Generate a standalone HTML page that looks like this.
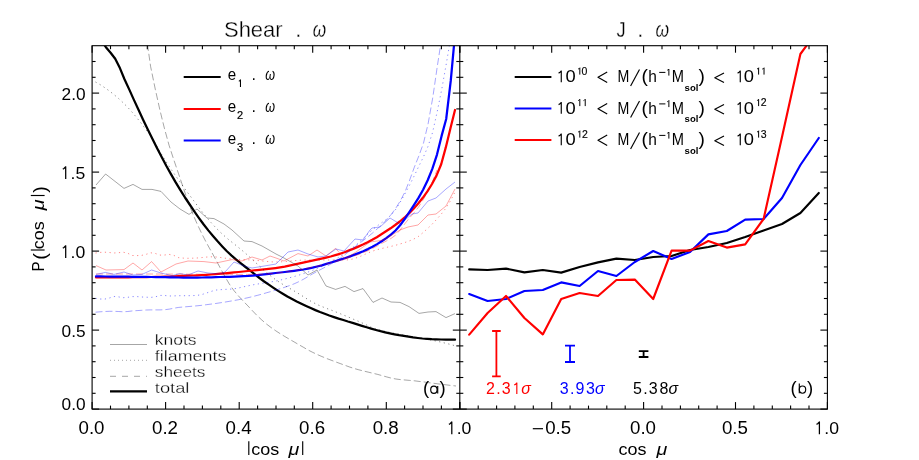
<!DOCTYPE html>
<html><head><meta charset="utf-8"><title>Alignment PDFs</title>
<style>html,body{margin:0;padding:0;background:#fff;}svg{display:block;}text{font-family:"Liberation Sans",sans-serif;}</style></head><body>
<svg width="919" height="460" viewBox="0 0 919 460" style="will-change:transform">
<rect width="919" height="460" fill="#fff"/>
<defs><clipPath id="cl"><rect x="92.1" y="45.7" width="367.70000000000005" height="363.40000000000003"/></clipPath><clipPath id="cr"><rect x="459.8" y="45.7" width="367.59999999999997" height="363.40000000000003"/></clipPath></defs>
<g clip-path="url(#cl)">
<polyline points="96.6,33.0 101.3,40.5 105.9,47.2 110.6,52.7 115.2,58.8 119.9,68.1 124.5,79.2 129.2,89.4 133.8,99.6 138.5,109.8 143.1,119.7 147.8,129.4 152.5,138.9 157.1,148.2 161.8,157.2 166.4,166.0 171.1,174.4 175.7,182.4 180.4,190.1 185.0,197.5 189.7,204.5 194.3,211.4 199.0,218.1 203.7,224.5 208.3,230.4 213.0,236.0 217.6,241.3 222.3,246.4 226.9,251.2 231.6,255.6 236.2,259.7 240.9,263.4 245.5,267.0 250.2,270.6 254.9,274.3 259.5,278.0 264.2,281.5 268.8,284.7 273.5,287.9 278.1,290.9 282.8,293.7 287.4,296.5 292.1,299.0 296.7,301.4 301.4,303.7 306.1,305.9 310.7,308.0 315.4,310.1 320.0,312.0 324.7,313.8 329.3,315.5 334.0,317.1 338.6,318.6 343.3,320.0 347.9,321.5 352.6,322.9 357.3,324.4 361.9,325.8 366.6,327.3 371.2,328.7 375.9,330.0 380.5,331.2 385.2,332.3 389.8,333.3 394.5,334.3 399.1,335.2 403.8,335.9 408.5,336.7 413.1,337.4 417.8,338.0 422.4,338.5 427.1,338.8 431.7,339.1 436.4,339.3 441.0,339.5 445.7,339.6 450.3,339.7 455.0,339.7" fill="none" stroke="#000" stroke-width="2.25" stroke-linejoin="round" stroke-linecap="round"/>
<polyline points="96.0,277.4 100.6,277.4 105.2,277.4 109.8,277.4 114.4,277.3 119.0,277.3 123.6,277.3 128.2,277.3 132.8,277.2 137.4,277.2 142.0,277.1 146.6,277.1 151.2,277.0 155.8,276.9 160.4,276.8 165.0,276.7 169.6,276.5 174.2,276.3 178.8,276.1 183.4,275.9 188.1,275.7 192.7,275.5 197.3,275.3 201.9,275.0 206.5,274.8 211.1,274.5 215.7,274.1 220.3,273.7 224.9,273.3 229.5,272.8 234.1,272.4 238.7,272.0 243.3,271.5 247.9,271.0 252.5,270.5 257.1,270.1 261.7,269.6 266.3,269.2 270.9,268.7 275.5,268.1 280.1,267.4 284.7,266.6 289.3,265.6 293.9,264.7 298.5,263.6 303.1,262.6 307.7,261.6 312.3,260.7 316.9,259.7 321.5,258.7 326.1,257.6 330.7,256.5 335.3,255.2 339.9,253.8 344.5,252.2 349.1,250.4 353.7,248.6 358.3,246.6 362.9,244.5 367.6,242.2 372.2,239.8 376.8,237.2 381.4,234.3 386.0,231.3 390.6,228.3 395.2,225.0 399.8,221.5 404.4,217.7 409.0,213.4 413.6,208.7 418.2,203.5 422.8,197.8 427.4,191.4 432.0,184.0 436.6,175.4 441.2,164.3 445.8,147.4 450.4,128.4 455.0,110.0" fill="none" stroke="#f00" stroke-width="2.25" stroke-linejoin="round" stroke-linecap="round"/>
<polyline points="96.0,276.4 100.6,276.4 105.2,276.5 109.8,276.5 114.4,276.6 119.0,276.6 123.6,276.7 128.3,276.7 132.9,276.8 137.5,276.8 142.1,276.9 146.7,276.9 151.3,277.0 155.9,277.1 160.5,277.1 165.1,277.2 169.7,277.3 174.3,277.4 178.9,277.5 183.5,277.5 188.2,277.6 192.8,277.6 197.4,277.6 202.0,277.5 206.6,277.4 211.2,277.3 215.8,277.2 220.4,277.0 225.0,276.9 229.6,276.8 234.2,276.6 238.8,276.4 243.4,276.1 248.1,275.9 252.7,275.6 257.3,275.2 261.9,274.7 266.5,274.2 271.1,273.6 275.7,273.0 280.3,272.5 284.9,272.0 289.5,271.4 294.1,270.8 298.7,270.2 303.3,269.5 308.0,268.6 312.6,267.7 317.2,266.5 321.8,265.3 326.4,263.9 331.0,262.5 335.6,261.1 340.2,259.7 344.8,258.2 349.4,256.6 354.0,254.9 358.6,253.1 363.2,251.2 367.9,249.1 372.5,246.8 377.1,244.1 381.7,241.2 386.3,238.1 390.9,234.6 395.5,230.5 400.1,225.3 404.7,219.0 409.3,212.1 413.9,205.1 418.5,197.9 423.1,189.7 427.8,180.0 432.4,168.7 437.0,154.6 441.6,135.9 446.2,119.0 450.8,80.4 455.4,30.0" fill="none" stroke="#00f" stroke-width="2.25" stroke-linejoin="round" stroke-linecap="round"/>
<polyline points="96.0,185.0 105.6,174.0 124.0,188.4 133.0,184.4 142.0,189.4 152.0,189.4 161.0,191.4 171.0,202.0 180.0,209.0 189.0,214.4 197.0,209.0 207.0,218.0 214.0,218.6 224.0,224.0 232.0,230.0 244.0,241.0 252.0,241.6 262.0,246.0 276.0,254.0 284.0,258.0 298.0,266.0 308.0,275.0 317.0,270.0 326.0,286.0 335.6,289.4 345.0,286.4 354.0,291.6 363.0,288.6 373.0,302.4 382.0,298.0 391.0,302.0 400.0,302.4 409.0,306.6 419.0,313.4 428.0,312.0 436.0,311.6 446.0,317.6 455.0,313.6" fill="none" stroke="#000" stroke-width="0.7" stroke-linejoin="round" stroke-opacity="0.5"/>
<polyline points="95.5,82.0 100.1,84.6 104.7,87.6 109.4,91.0 114.0,94.6 118.6,98.5 123.2,102.8 127.9,107.5 132.5,112.6 137.1,118.1 141.7,123.9 146.3,130.0 151.0,136.4 155.6,143.8 160.2,152.0 164.8,159.7 169.4,166.8 174.1,173.6 178.7,180.2 183.3,186.6 187.9,192.9 192.6,199.2 197.2,205.4 201.8,211.4 206.4,217.1 211.0,222.5 215.7,227.6 220.3,232.2 224.9,236.4 229.5,240.3 234.2,244.0 238.8,247.7 243.4,251.5 248.0,255.5 252.6,259.8 257.3,264.1 261.9,268.4 266.5,272.5 271.1,276.3 275.8,279.8 280.4,282.9 285.0,285.7 289.6,288.3 294.2,291.0 298.9,293.8 303.5,296.7 308.1,299.6 312.7,302.3 317.3,304.6 322.0,306.6 326.6,308.4 331.2,310.1 335.8,311.9 340.5,313.8 345.1,315.7 349.7,317.6 354.3,319.6 358.9,321.5 363.6,323.6 368.2,325.8 372.8,327.9 377.4,329.4 382.1,330.7 386.7,331.7 391.3,332.7 395.9,333.6 400.5,334.5 405.2,335.3 409.8,336.2 414.4,337.1 419.0,337.9 423.6,338.7 428.3,339.5 432.9,340.4 437.5,341.3 442.1,342.4 446.8,343.5 451.4,344.7 456.0,346.0" fill="none" stroke="#000" stroke-width="0.8" stroke-linejoin="round" stroke-dasharray="1.2 3.5" stroke-opacity="0.6"/>
<polyline points="146.0,34.0 150.6,66.5 155.3,89.3 159.9,110.0 164.5,128.7 169.1,145.4 173.8,159.8 178.4,173.3 183.0,186.9 187.6,200.4 192.3,212.7 196.9,223.4 201.5,233.1 206.1,242.1 210.8,250.6 215.4,258.9 220.0,267.5 224.7,276.1 229.3,284.0 233.9,290.5 238.5,296.0 243.2,301.0 247.8,305.8 252.4,310.7 257.0,315.5 261.7,319.9 266.3,323.9 270.9,327.4 275.6,330.7 280.2,333.7 284.8,336.5 289.4,339.2 294.1,341.9 298.7,344.6 303.3,347.2 307.9,349.9 312.6,352.3 317.2,354.5 321.8,356.5 326.4,358.4 331.1,360.2 335.7,361.9 340.3,363.6 345.0,365.3 349.6,367.0 354.2,368.5 358.8,369.8 363.5,371.0 368.1,372.1 372.7,373.2 377.3,374.3 382.0,375.6 386.6,376.9 391.2,378.1 395.9,379.0 400.5,379.6 405.1,380.0 409.7,380.4 414.4,380.8 419.0,381.4 423.6,381.9 428.2,382.6 432.9,383.2 437.5,383.8 442.1,384.4 446.7,384.9 451.4,385.5 456.0,386.0" fill="none" stroke="#000" stroke-width="0.7" stroke-linejoin="round" stroke-dasharray="7 3" stroke-opacity="0.5"/>
<polyline points="96.0,265.6 106.0,270.0 124.0,269.6 133.0,263.0 142.0,270.0 151.6,261.6 161.0,272.0 176.0,264.0 188.0,261.0 204.0,261.6 216.0,263.0 232.0,259.6 242.0,261.0 252.0,257.0 262.0,260.0 270.0,256.0 276.0,258.0 284.0,261.0 298.0,253.6 308.0,256.0 317.0,250.0 326.0,256.0 335.6,248.4 345.0,259.0 356.0,252.0 370.0,242.0 384.0,240.0 400.0,230.0 408.0,227.0 418.0,225.0 428.0,215.0 436.0,214.0 446.0,206.0 455.0,189.0" fill="none" stroke="#f00" stroke-width="0.7" stroke-linejoin="round" stroke-opacity="0.5"/>
<polyline points="95.5,253.0 100.1,252.4 104.7,252.2 109.3,252.5 113.9,253.0 118.5,252.7 123.2,252.2 127.8,253.3 132.4,255.5 137.0,255.6 141.6,255.4 146.2,254.3 150.8,252.8 155.4,253.5 160.0,255.1 164.6,255.0 169.2,254.4 173.9,255.4 178.5,257.6 183.1,258.1 187.7,258.3 192.3,258.2 196.9,258.0 201.5,257.6 206.1,257.1 210.7,256.8 215.3,256.9 219.9,257.4 224.6,258.1 229.2,258.7 233.8,259.1 238.4,259.4 243.0,259.6 247.6,259.8 252.2,260.0 256.8,260.4 261.4,260.9 266.0,261.4 270.6,261.8 275.2,262.0 279.9,261.9 284.5,261.6 289.1,261.2 293.7,260.7 298.3,260.3 302.9,260.1 307.5,260.0 312.1,260.0 316.7,260.0 321.3,260.0 325.9,260.0 330.6,260.0 335.2,260.0 339.8,260.0 344.4,260.0 349.0,259.8 353.6,258.8 358.2,257.2 362.8,255.3 367.4,253.2 372.0,251.3 376.6,249.8 381.3,248.6 385.9,247.5 390.5,246.5 395.1,245.4 399.7,244.1 404.3,242.7 408.9,241.1 413.5,239.2 418.1,236.7 422.7,232.9 427.3,228.8 432.0,224.3 436.6,219.4 441.2,214.2 445.8,208.3 450.4,200.9 455.0,192.0" fill="none" stroke="#f00" stroke-width="0.8" stroke-linejoin="round" stroke-dasharray="1.2 3.5" stroke-opacity="0.6"/>
<polyline points="96.0,274.0 100.6,274.0 105.2,274.0 109.8,274.0 114.4,274.0 119.0,274.0 123.6,274.0 128.3,274.0 132.9,274.0 137.5,274.0 142.1,274.0 146.7,274.0 151.3,274.0 155.9,274.0 160.5,274.0 165.1,274.0 169.7,274.1 174.3,274.1 178.9,274.1 183.6,274.1 188.2,274.2 192.8,274.2 197.4,274.2 202.0,274.3 206.6,274.3 211.2,274.3 215.8,274.3 220.4,274.3 225.0,274.3 229.6,274.4 234.2,274.4 238.9,274.4 243.5,274.4 248.1,274.4 252.7,274.4 257.3,274.4 261.9,274.2 266.5,273.9 271.1,273.5 275.7,273.0 280.3,272.6 284.9,272.0 289.5,271.3 294.1,270.6 298.8,269.8 303.4,269.0 308.0,268.1 312.6,267.2 317.2,266.2 321.8,265.2 326.4,264.0 331.0,262.8 335.6,261.6 340.2,260.3 344.8,259.0 349.4,257.5 354.1,256.0 358.7,254.4 363.3,252.6 367.9,250.7 372.5,248.4 377.1,246.0 381.7,243.4 386.3,241.0 390.9,238.5 395.5,235.2 400.1,230.1 404.7,223.9 409.4,218.1 414.0,212.8 418.6,207.0 423.2,199.8 427.8,191.4 432.4,181.7 437.0,170.0" fill="none" stroke="#f00" stroke-width="0.7" stroke-linejoin="round" stroke-dasharray="7 3" stroke-opacity="0.5"/>
<polyline points="96.0,274.4 105.6,272.4 114.0,274.4 124.0,272.0 133.0,275.0 142.0,274.4 151.6,270.0 161.0,273.0 172.0,275.6 180.0,273.6 188.0,275.0 198.0,271.0 208.0,273.0 220.0,274.0 225.0,272.0 234.0,262.0 244.0,266.0 252.0,268.0 262.0,266.4 276.0,264.0 288.0,252.0 298.0,250.0 308.0,254.0 318.0,257.0 326.0,256.0 336.0,249.0 344.0,251.0 355.0,239.0 363.0,240.0 370.0,230.0 372.0,228.0 380.0,227.0 390.0,218.0 400.0,224.0 412.0,214.0 418.0,213.0 428.0,201.0 436.0,198.0 446.0,189.0 455.0,182.0" fill="none" stroke="#00f" stroke-width="0.7" stroke-linejoin="round" stroke-opacity="0.5"/>
<polyline points="95.5,298.3 100.1,299.0 104.7,299.1 109.4,298.0 114.0,296.5 118.6,296.9 123.2,297.7 127.8,297.3 132.4,296.6 137.1,296.6 141.7,297.0 146.3,297.2 150.9,297.4 155.5,296.8 160.1,295.4 164.8,295.5 169.4,296.0 174.0,295.9 178.6,295.7 183.2,295.7 187.8,295.7 192.5,295.6 197.1,295.4 201.7,294.6 206.3,293.1 210.9,291.5 215.5,290.1 220.2,289.7 224.8,289.4 229.4,289.2 234.0,288.8 238.6,288.0 243.2,286.9 247.9,285.9 252.5,284.9 257.1,284.1 261.7,283.4 266.3,282.7 270.9,281.9 275.6,281.1 280.2,280.1 284.8,279.0 289.4,277.8 294.0,276.6 298.6,275.2 303.3,273.7 307.9,272.1 312.5,270.4 317.1,268.5 321.7,266.5 326.3,264.3 331.0,261.8 335.6,259.2 340.2,256.4 344.8,253.4 349.4,250.1 354.0,246.6 358.7,242.7 363.3,238.3 367.9,233.8 372.5,229.6 377.1,226.0 381.7,222.7 386.4,219.3 391.0,215.1 395.6,209.5 400.2,202.2 404.8,194.1 409.4,185.5 414.1,176.1 418.7,166.5 423.3,157.2 427.9,146.7 432.5,132.7 437.1,112.2 441.8,89.0 446.4,63.2 451.0,36.0" fill="none" stroke="#00f" stroke-width="0.8" stroke-linejoin="round" stroke-dasharray="1.2 3.5" stroke-opacity="0.6"/>
<polyline points="95.5,312.2 100.1,311.8 104.7,311.5 109.4,311.3 114.0,311.3 118.6,311.5 123.2,311.8 127.8,311.5 132.5,310.9 137.1,310.6 141.7,310.3 146.3,310.0 150.9,309.9 155.6,309.9 160.2,309.9 164.8,309.7 169.4,309.1 174.0,308.2 178.7,307.4 183.3,307.0 187.9,306.6 192.5,306.2 197.1,305.8 201.8,305.3 206.4,304.7 211.0,304.1 215.6,303.5 220.2,302.8 224.9,302.1 229.5,301.3 234.1,300.5 238.7,299.7 243.3,298.7 248.0,297.7 252.6,296.6 257.2,295.4 261.8,294.2 266.4,292.8 271.1,291.5 275.7,290.1 280.3,288.7 284.9,287.2 289.5,285.6 294.2,283.8 298.8,281.7 303.4,279.3 308.0,276.6 312.6,273.9 317.3,271.3 321.9,268.9 326.5,266.4 331.1,263.9 335.7,261.2 340.4,258.1 345.0,254.6 349.6,251.0 354.2,247.4 358.8,243.8 363.5,240.3 368.1,236.7 372.7,232.9 377.3,228.8 381.9,224.6 386.6,219.9 391.2,214.5 395.8,208.2 400.4,200.7 405.0,191.8 409.7,180.0 414.3,167.3 418.9,155.8 423.5,143.1 428.1,123.8 432.8,97.4 437.4,65.7 442.0,36.0" fill="none" stroke="#00f" stroke-width="0.7" stroke-linejoin="round" stroke-dasharray="7 3" stroke-opacity="0.5"/>
</g>
<g clip-path="url(#cr)">
<polyline points="469.2,269.4 487.6,270.0 506.0,268.6 524.4,272.4 542.8,270.0 561.2,272.6 579.6,267.0 598.0,262.4 616.4,258.6 634.8,260.0 653.2,257.0 671.6,256.0 690.0,250.0 708.4,247.0 726.8,243.0 745.2,237.0 763.6,230.5 782.0,224.0 800.4,213.0 818.8,193.0" fill="none" stroke="#000" stroke-width="2.15" stroke-linejoin="round" stroke-linecap="round"/>
<polyline points="469.2,294.0 487.6,301.0 506.0,299.0 524.4,291.0 542.8,290.0 561.2,282.4 579.6,286.0 598.0,271.0 616.4,276.0 634.8,262.0 653.2,251.0 671.6,259.0 690.0,252.0 708.4,234.4 726.8,231.0 745.2,219.6 763.6,219.0 782.0,198.0 800.4,165.0 818.8,138.0" fill="none" stroke="#00f" stroke-width="2.15" stroke-linejoin="round" stroke-linecap="round"/>
<polyline points="469.2,334.6 487.6,313.0 506.0,296.0 524.4,318.0 542.8,334.4 561.2,299.0 579.6,293.0 598.0,296.0 616.4,280.0 634.8,279.6 653.2,299.0 671.6,250.6 690.0,250.6 708.4,241.0 726.8,247.6 745.2,244.4 763.6,219.0 782.0,137.0 800.4,54.0 818.8,29.0" fill="none" stroke="#f00" stroke-width="2.15" stroke-linejoin="round" stroke-linecap="round"/>
</g>
<g stroke="#000" stroke-width="1.1" fill="none">
<rect x="92.1" y="45.7" width="735.3" height="363.40000000000003"/>
<line x1="459.8" y1="45.7" x2="459.8" y2="409.1"/>
<line x1="92.1" y1="409.1" x2="99.1" y2="409.1"/>
<line x1="452.8" y1="409.1" x2="466.8" y2="409.1"/>
<line x1="820.4" y1="409.1" x2="827.4" y2="409.1"/>
<line x1="92.1" y1="393.3" x2="95.6" y2="393.3"/>
<line x1="456.3" y1="393.3" x2="463.3" y2="393.3"/>
<line x1="823.9" y1="393.3" x2="827.4" y2="393.3"/>
<line x1="92.1" y1="377.5" x2="95.6" y2="377.5"/>
<line x1="456.3" y1="377.5" x2="463.3" y2="377.5"/>
<line x1="823.9" y1="377.5" x2="827.4" y2="377.5"/>
<line x1="92.1" y1="361.7" x2="95.6" y2="361.7"/>
<line x1="456.3" y1="361.7" x2="463.3" y2="361.7"/>
<line x1="823.9" y1="361.7" x2="827.4" y2="361.7"/>
<line x1="92.1" y1="345.9" x2="95.6" y2="345.9"/>
<line x1="456.3" y1="345.9" x2="463.3" y2="345.9"/>
<line x1="823.9" y1="345.9" x2="827.4" y2="345.9"/>
<line x1="92.1" y1="330.1" x2="99.1" y2="330.1"/>
<line x1="452.8" y1="330.1" x2="466.8" y2="330.1"/>
<line x1="820.4" y1="330.1" x2="827.4" y2="330.1"/>
<line x1="92.1" y1="314.3" x2="95.6" y2="314.3"/>
<line x1="456.3" y1="314.3" x2="463.3" y2="314.3"/>
<line x1="823.9" y1="314.3" x2="827.4" y2="314.3"/>
<line x1="92.1" y1="298.5" x2="95.6" y2="298.5"/>
<line x1="456.3" y1="298.5" x2="463.3" y2="298.5"/>
<line x1="823.9" y1="298.5" x2="827.4" y2="298.5"/>
<line x1="92.1" y1="282.7" x2="95.6" y2="282.7"/>
<line x1="456.3" y1="282.7" x2="463.3" y2="282.7"/>
<line x1="823.9" y1="282.7" x2="827.4" y2="282.7"/>
<line x1="92.1" y1="266.9" x2="95.6" y2="266.9"/>
<line x1="456.3" y1="266.9" x2="463.3" y2="266.9"/>
<line x1="823.9" y1="266.9" x2="827.4" y2="266.9"/>
<line x1="92.1" y1="251.1" x2="99.1" y2="251.1"/>
<line x1="452.8" y1="251.1" x2="466.8" y2="251.1"/>
<line x1="820.4" y1="251.1" x2="827.4" y2="251.1"/>
<line x1="92.1" y1="235.3" x2="95.6" y2="235.3"/>
<line x1="456.3" y1="235.3" x2="463.3" y2="235.3"/>
<line x1="823.9" y1="235.3" x2="827.4" y2="235.3"/>
<line x1="92.1" y1="219.5" x2="95.6" y2="219.5"/>
<line x1="456.3" y1="219.5" x2="463.3" y2="219.5"/>
<line x1="823.9" y1="219.5" x2="827.4" y2="219.5"/>
<line x1="92.1" y1="203.7" x2="95.6" y2="203.7"/>
<line x1="456.3" y1="203.7" x2="463.3" y2="203.7"/>
<line x1="823.9" y1="203.7" x2="827.4" y2="203.7"/>
<line x1="92.1" y1="187.9" x2="95.6" y2="187.9"/>
<line x1="456.3" y1="187.9" x2="463.3" y2="187.9"/>
<line x1="823.9" y1="187.9" x2="827.4" y2="187.9"/>
<line x1="92.1" y1="172.1" x2="99.1" y2="172.1"/>
<line x1="452.8" y1="172.1" x2="466.8" y2="172.1"/>
<line x1="820.4" y1="172.1" x2="827.4" y2="172.1"/>
<line x1="92.1" y1="156.3" x2="95.6" y2="156.3"/>
<line x1="456.3" y1="156.3" x2="463.3" y2="156.3"/>
<line x1="823.9" y1="156.3" x2="827.4" y2="156.3"/>
<line x1="92.1" y1="140.5" x2="95.6" y2="140.5"/>
<line x1="456.3" y1="140.5" x2="463.3" y2="140.5"/>
<line x1="823.9" y1="140.5" x2="827.4" y2="140.5"/>
<line x1="92.1" y1="124.7" x2="95.6" y2="124.7"/>
<line x1="456.3" y1="124.7" x2="463.3" y2="124.7"/>
<line x1="823.9" y1="124.7" x2="827.4" y2="124.7"/>
<line x1="92.1" y1="108.9" x2="95.6" y2="108.9"/>
<line x1="456.3" y1="108.9" x2="463.3" y2="108.9"/>
<line x1="823.9" y1="108.9" x2="827.4" y2="108.9"/>
<line x1="92.1" y1="93.1" x2="99.1" y2="93.1"/>
<line x1="452.8" y1="93.1" x2="466.8" y2="93.1"/>
<line x1="820.4" y1="93.1" x2="827.4" y2="93.1"/>
<line x1="92.1" y1="77.3" x2="95.6" y2="77.3"/>
<line x1="456.3" y1="77.3" x2="463.3" y2="77.3"/>
<line x1="823.9" y1="77.3" x2="827.4" y2="77.3"/>
<line x1="92.1" y1="61.5" x2="95.6" y2="61.5"/>
<line x1="456.3" y1="61.5" x2="463.3" y2="61.5"/>
<line x1="823.9" y1="61.5" x2="827.4" y2="61.5"/>
<line x1="92.1" y1="409.1" x2="92.1" y2="402.1"/>
<line x1="92.1" y1="45.7" x2="92.1" y2="52.7"/>
<line x1="110.5" y1="409.1" x2="110.5" y2="405.6"/>
<line x1="110.5" y1="45.7" x2="110.5" y2="49.2"/>
<line x1="128.9" y1="409.1" x2="128.9" y2="405.6"/>
<line x1="128.9" y1="45.7" x2="128.9" y2="49.2"/>
<line x1="147.3" y1="409.1" x2="147.3" y2="405.6"/>
<line x1="147.3" y1="45.7" x2="147.3" y2="49.2"/>
<line x1="165.6" y1="409.1" x2="165.6" y2="402.1"/>
<line x1="165.6" y1="45.7" x2="165.6" y2="52.7"/>
<line x1="184.0" y1="409.1" x2="184.0" y2="405.6"/>
<line x1="184.0" y1="45.7" x2="184.0" y2="49.2"/>
<line x1="202.4" y1="409.1" x2="202.4" y2="405.6"/>
<line x1="202.4" y1="45.7" x2="202.4" y2="49.2"/>
<line x1="220.8" y1="409.1" x2="220.8" y2="405.6"/>
<line x1="220.8" y1="45.7" x2="220.8" y2="49.2"/>
<line x1="239.2" y1="409.1" x2="239.2" y2="402.1"/>
<line x1="239.2" y1="45.7" x2="239.2" y2="52.7"/>
<line x1="257.6" y1="409.1" x2="257.6" y2="405.6"/>
<line x1="257.6" y1="45.7" x2="257.6" y2="49.2"/>
<line x1="276.0" y1="409.1" x2="276.0" y2="405.6"/>
<line x1="276.0" y1="45.7" x2="276.0" y2="49.2"/>
<line x1="294.3" y1="409.1" x2="294.3" y2="405.6"/>
<line x1="294.3" y1="45.7" x2="294.3" y2="49.2"/>
<line x1="312.7" y1="409.1" x2="312.7" y2="402.1"/>
<line x1="312.7" y1="45.7" x2="312.7" y2="52.7"/>
<line x1="331.1" y1="409.1" x2="331.1" y2="405.6"/>
<line x1="331.1" y1="45.7" x2="331.1" y2="49.2"/>
<line x1="349.5" y1="409.1" x2="349.5" y2="405.6"/>
<line x1="349.5" y1="45.7" x2="349.5" y2="49.2"/>
<line x1="367.9" y1="409.1" x2="367.9" y2="405.6"/>
<line x1="367.9" y1="45.7" x2="367.9" y2="49.2"/>
<line x1="386.3" y1="409.1" x2="386.3" y2="402.1"/>
<line x1="386.3" y1="45.7" x2="386.3" y2="52.7"/>
<line x1="404.6" y1="409.1" x2="404.6" y2="405.6"/>
<line x1="404.6" y1="45.7" x2="404.6" y2="49.2"/>
<line x1="423.0" y1="409.1" x2="423.0" y2="405.6"/>
<line x1="423.0" y1="45.7" x2="423.0" y2="49.2"/>
<line x1="441.4" y1="409.1" x2="441.4" y2="405.6"/>
<line x1="441.4" y1="45.7" x2="441.4" y2="49.2"/>
<line x1="459.8" y1="409.1" x2="459.8" y2="402.1"/>
<line x1="459.8" y1="45.7" x2="459.8" y2="52.7"/>
<line x1="459.8" y1="409.1" x2="459.8" y2="402.1"/>
<line x1="459.8" y1="45.7" x2="459.8" y2="52.7"/>
<line x1="478.2" y1="409.1" x2="478.2" y2="405.6"/>
<line x1="478.2" y1="45.7" x2="478.2" y2="49.2"/>
<line x1="496.6" y1="409.1" x2="496.6" y2="405.6"/>
<line x1="496.6" y1="45.7" x2="496.6" y2="49.2"/>
<line x1="514.9" y1="409.1" x2="514.9" y2="405.6"/>
<line x1="514.9" y1="45.7" x2="514.9" y2="49.2"/>
<line x1="533.3" y1="409.1" x2="533.3" y2="405.6"/>
<line x1="533.3" y1="45.7" x2="533.3" y2="49.2"/>
<line x1="551.7" y1="409.1" x2="551.7" y2="402.1"/>
<line x1="551.7" y1="45.7" x2="551.7" y2="52.7"/>
<line x1="570.1" y1="409.1" x2="570.1" y2="405.6"/>
<line x1="570.1" y1="45.7" x2="570.1" y2="49.2"/>
<line x1="588.5" y1="409.1" x2="588.5" y2="405.6"/>
<line x1="588.5" y1="45.7" x2="588.5" y2="49.2"/>
<line x1="606.8" y1="409.1" x2="606.8" y2="405.6"/>
<line x1="606.8" y1="45.7" x2="606.8" y2="49.2"/>
<line x1="625.2" y1="409.1" x2="625.2" y2="405.6"/>
<line x1="625.2" y1="45.7" x2="625.2" y2="49.2"/>
<line x1="643.6" y1="409.1" x2="643.6" y2="402.1"/>
<line x1="643.6" y1="45.7" x2="643.6" y2="52.7"/>
<line x1="662.0" y1="409.1" x2="662.0" y2="405.6"/>
<line x1="662.0" y1="45.7" x2="662.0" y2="49.2"/>
<line x1="680.4" y1="409.1" x2="680.4" y2="405.6"/>
<line x1="680.4" y1="45.7" x2="680.4" y2="49.2"/>
<line x1="698.7" y1="409.1" x2="698.7" y2="405.6"/>
<line x1="698.7" y1="45.7" x2="698.7" y2="49.2"/>
<line x1="717.1" y1="409.1" x2="717.1" y2="405.6"/>
<line x1="717.1" y1="45.7" x2="717.1" y2="49.2"/>
<line x1="735.5" y1="409.1" x2="735.5" y2="402.1"/>
<line x1="735.5" y1="45.7" x2="735.5" y2="52.7"/>
<line x1="753.9" y1="409.1" x2="753.9" y2="405.6"/>
<line x1="753.9" y1="45.7" x2="753.9" y2="49.2"/>
<line x1="772.3" y1="409.1" x2="772.3" y2="405.6"/>
<line x1="772.3" y1="45.7" x2="772.3" y2="49.2"/>
<line x1="790.6" y1="409.1" x2="790.6" y2="405.6"/>
<line x1="790.6" y1="45.7" x2="790.6" y2="49.2"/>
<line x1="809.0" y1="409.1" x2="809.0" y2="405.6"/>
<line x1="809.0" y1="45.7" x2="809.0" y2="49.2"/>
<line x1="827.4" y1="409.1" x2="827.4" y2="402.1"/>
<line x1="827.4" y1="45.7" x2="827.4" y2="52.7"/>
</g>
<text x="61.6" y="337.0" font-size="17" textLength="24" lengthAdjust="spacingAndGlyphs">0.5</text>
<text x="61.6" y="100.0" font-size="17" textLength="24" lengthAdjust="spacingAndGlyphs">2.0</text>
<path d="M62.80 248.12L63.96 247.54L65.70 245.80V258.00" fill="none" stroke="#000" stroke-width="1.25" stroke-linejoin="round"/>
<text x="70.6" y="258" font-size="17" textLength="14.7" lengthAdjust="spacingAndGlyphs">.0</text>
<path d="M62.80 169.12L63.96 168.54L65.70 166.80V179.00" fill="none" stroke="#000" stroke-width="1.25" stroke-linejoin="round"/>
<text x="70.6" y="179" font-size="17" textLength="14.7" lengthAdjust="spacingAndGlyphs">.5</text>
<text x="61.6" y="410.2" font-size="17" textLength="24" lengthAdjust="spacingAndGlyphs">0.0</text>
<text x="78.5" y="434.2" font-size="17.6" textLength="26" lengthAdjust="spacingAndGlyphs">0.0</text>
<text x="152.0" y="434.2" font-size="17.6" textLength="26" lengthAdjust="spacingAndGlyphs">0.2</text>
<text x="225.6" y="434.2" font-size="17.6" textLength="26" lengthAdjust="spacingAndGlyphs">0.4</text>
<text x="299.1" y="434.2" font-size="17.6" textLength="26" lengthAdjust="spacingAndGlyphs">0.6</text>
<text x="372.7" y="434.2" font-size="17.6" textLength="26" lengthAdjust="spacingAndGlyphs">0.8</text>
<path d="M448.90 424.32L450.06 423.74L451.80 422.00V434.20" fill="none" stroke="#000" stroke-width="1.25" stroke-linejoin="round"/>
<text x="456.7" y="434.2" font-size="17" textLength="14.7" lengthAdjust="spacingAndGlyphs">.0</text>
<path d="M816.50 424.32L817.66 423.74L819.40 422.00V434.20" fill="none" stroke="#000" stroke-width="1.25" stroke-linejoin="round"/>
<text x="824.3" y="434.2" font-size="17" textLength="14.7" lengthAdjust="spacingAndGlyphs">.0</text>
<line x1="532.8" y1="428.7" x2="543" y2="428.7" stroke="#000" stroke-width="1.2"/>
<text x="545.2" y="434.2" font-size="17.6" textLength="26" lengthAdjust="spacingAndGlyphs">0.5</text>
<text x="630.0" y="434.2" font-size="17.6" textLength="26" lengthAdjust="spacingAndGlyphs">0.0</text>
<text x="721.9" y="434.2" font-size="17.6" textLength="26" lengthAdjust="spacingAndGlyphs">0.5</text>
<line x1="248.8" y1="441.3" x2="248.8" y2="455.1" stroke="#000" stroke-width="1.15"/>
<text x="251.2" y="454.9" font-size="17" textLength="28" lengthAdjust="spacingAndGlyphs">cos</text>
<text x="288.6" y="454.9" font-size="17" textLength="10.8" lengthAdjust="spacingAndGlyphs" font-style="italic">μ</text>
<line x1="302.7" y1="441.3" x2="302.7" y2="455.1" stroke="#000" stroke-width="1.15"/>
<text x="618.6" y="455.4" font-size="17" textLength="28" lengthAdjust="spacingAndGlyphs">cos</text>
<text x="656.4" y="455.4" font-size="17" textLength="10.8" lengthAdjust="spacingAndGlyphs" font-style="italic">μ</text>
<g transform="translate(44.2,271) rotate(-90)">
<text x="-0.5" y="0" font-size="16" textLength="10" lengthAdjust="spacingAndGlyphs">P</text>
<text x="11.2" y="1.6" font-size="19" textLength="6.5" lengthAdjust="spacingAndGlyphs">(</text>
<line x1="21" y1="-13.4" x2="21" y2="0.4" stroke="#000" stroke-width="1.15"/>
<text x="21.8" y="0.2" font-size="17" textLength="28" lengthAdjust="spacingAndGlyphs">cos</text>
<text x="60.8" y="0.2" font-size="17" textLength="10.8" lengthAdjust="spacingAndGlyphs" font-style="italic">μ</text>
<line x1="75.5" y1="-13.4" x2="75.5" y2="0.4" stroke="#000" stroke-width="1.15"/>
<text x="78.3" y="1.6" font-size="19" textLength="6.5" lengthAdjust="spacingAndGlyphs">)</text>
</g>
<text x="224.0" y="37.2" font-size="22" textLength="58.6" lengthAdjust="spacingAndGlyphs" stroke="#fff" stroke-width="0.30">Shear</text>
<text x="295.3" y="37.2" font-size="22" stroke="#fff" stroke-width="0.30">.</text>
<text x="312.8" y="37.2" font-size="22" textLength="13.4" lengthAdjust="spacingAndGlyphs" stroke="#fff" stroke-width="0.30" font-style="italic">ω</text>
<text x="616.4" y="36.8" font-size="22" textLength="9.2" lengthAdjust="spacingAndGlyphs" stroke="#fff" stroke-width="0.30">J</text>
<text x="637.3" y="36.8" font-size="22" stroke="#fff" stroke-width="0.30">.</text>
<text x="655.6" y="36.8" font-size="22" textLength="13.6" lengthAdjust="spacingAndGlyphs" stroke="#fff" stroke-width="0.30" font-style="italic">ω</text>
<line x1="183.7" y1="77" x2="220.7" y2="77" stroke="#000" stroke-width="2.2"/>
<line x1="183.7" y1="109" x2="220.7" y2="109" stroke="#f00" stroke-width="1.8"/>
<line x1="183.7" y1="140.5" x2="220.7" y2="140.5" stroke="#00f" stroke-width="1.8"/>
<text x="227.8" y="80.1" font-size="16" textLength="8.4" lengthAdjust="spacingAndGlyphs">e</text>
<path d="M238.80 81.23L239.47 80.90L240.47 79.90V86.90" fill="none" stroke="#000" stroke-width="1.05" stroke-linejoin="round"/>
<text x="251.5" y="80.1" font-size="16">.</text>
<text x="265.2" y="80.1" font-size="16" textLength="9.8" lengthAdjust="spacingAndGlyphs" font-style="italic">ω</text>
<text x="227.8" y="112.1" font-size="16" textLength="8.4" lengthAdjust="spacingAndGlyphs">e</text>
<text x="236.9" y="119.0" font-size="11" stroke="#000" stroke-width="0.2">2</text>
<text x="251.5" y="112.1" font-size="16">.</text>
<text x="265.2" y="112.1" font-size="16" textLength="9.8" lengthAdjust="spacingAndGlyphs" font-style="italic">ω</text>
<text x="227.8" y="143.6" font-size="16" textLength="8.4" lengthAdjust="spacingAndGlyphs">e</text>
<text x="236.9" y="150.5" font-size="11" stroke="#000" stroke-width="0.2">3</text>
<text x="251.5" y="143.6" font-size="16">.</text>
<text x="265.2" y="143.6" font-size="16" textLength="9.8" lengthAdjust="spacingAndGlyphs" font-style="italic">ω</text>
<line x1="110" y1="344.5" x2="147" y2="344.5" stroke="#000" stroke-width="0.7" stroke-opacity="0.5"/>
<line x1="110" y1="360.3" x2="147" y2="360.3" stroke="#000" stroke-width="0.7" stroke-opacity="0.5" stroke-dasharray="1 3"/>
<line x1="110" y1="376.3" x2="147" y2="376.3" stroke="#000" stroke-width="0.7" stroke-opacity="0.5" stroke-dasharray="6 6"/>
<line x1="110" y1="391.4" x2="147" y2="391.4" stroke="#000" stroke-width="2.25"/>
<text x="154.8" y="345.4" font-size="15" textLength="41.8" lengthAdjust="spacingAndGlyphs" stroke="#fff" stroke-width="0.30">knots</text>
<text x="154.8" y="361.2" font-size="15" textLength="71.6" lengthAdjust="spacingAndGlyphs" stroke="#fff" stroke-width="0.30">filaments</text>
<text x="154.8" y="376.8" font-size="15" textLength="50.6" lengthAdjust="spacingAndGlyphs" stroke="#fff" stroke-width="0.30">sheets</text>
<text x="154.8" y="392.5" font-size="15" textLength="34.6" lengthAdjust="spacingAndGlyphs" stroke="#fff" stroke-width="0.30">total</text>
<text x="423.0" y="393.9" font-size="18.6" textLength="6.2" lengthAdjust="spacingAndGlyphs">(</text>
<g fill="none" stroke="#000" stroke-width="1.15"><ellipse cx="433.9" cy="389.7" rx="3.2" ry="3.6"/><path d="M437.7 386V393.4"/></g>
<text x="439.6" y="393.9" font-size="18.6" textLength="6.2" lengthAdjust="spacingAndGlyphs">)</text>
<text x="790.6" y="393.9" font-size="18.6" textLength="6.2" lengthAdjust="spacingAndGlyphs">(</text>
<g fill="none" stroke="#000" stroke-width="1.15"><ellipse cx="802.5" cy="389.6" rx="3.2" ry="3.6"/><path d="M799.3 383.4V393.3"/></g>
<text x="807.0" y="393.9" font-size="18.6" textLength="6.2" lengthAdjust="spacingAndGlyphs">)</text>
<line x1="514.7" y1="77" x2="551.4" y2="77" stroke="#000" stroke-width="2.1"/>
<path d="M558.60 73.13L559.67 72.60L561.27 71.00V82.20" fill="none" stroke="#000" stroke-width="1.15" stroke-linejoin="round"/>
<text x="565.6" y="82.4" font-size="16" textLength="10.2" lengthAdjust="spacingAndGlyphs">0</text>
<path d="M578.20 69.10L578.85 68.77L579.82 67.80V74.60" fill="none" stroke="#000" stroke-width="1.0" stroke-linejoin="round"/>
<text x="581.6" y="74.7" font-size="10.5" stroke="#000" stroke-width="0.15">0</text>
<path d="M607.2 72.10000000000001L598 77.35L607.2 82.60000000000001" fill="none" stroke="#000" stroke-width="1.15" stroke-linejoin="round"/>
<text x="617.5" y="82.2" font-size="16" textLength="11.8" lengthAdjust="spacingAndGlyphs">M</text>
<line x1="630.6" y1="86.10000000000001" x2="639.5" y2="69.60000000000001" stroke="#000" stroke-width="1.15"/>
<text x="641.4" y="82.2" font-size="18" textLength="6.4" lengthAdjust="spacingAndGlyphs">(</text>
<text x="648.2" y="82.2" font-size="16" textLength="8.6" lengthAdjust="spacingAndGlyphs">h</text>
<line x1="659.2" y1="72.4" x2="665.4" y2="72.4" stroke="#000" stroke-width="1.0"/>
<path d="M667.30 70.26L667.93 69.94L668.87 69.00V75.60" fill="none" stroke="#000" stroke-width="1.0" stroke-linejoin="round"/>
<text x="671.7" y="82.2" font-size="16" textLength="12.2" lengthAdjust="spacingAndGlyphs">M</text>
<text x="684.6" y="90.60000000000001" font-size="9" textLength="13.8" lengthAdjust="spacingAndGlyphs" font-weight="bold">sol</text>
<text x="698.6" y="82.2" font-size="18" textLength="6.4" lengthAdjust="spacingAndGlyphs">)</text>
<path d="M724 73.0L714.8 77.80L724 82.60000000000001" fill="none" stroke="#000" stroke-width="1.15" stroke-linejoin="round"/>
<path d="M737.60 73.13L738.67 72.60L740.27 71.00V82.20" fill="none" stroke="#000" stroke-width="1.15" stroke-linejoin="round"/>
<text x="743.8" y="82.4" font-size="16" textLength="10.2" lengthAdjust="spacingAndGlyphs">0</text>
<path d="M757.00 69.10L757.65 68.77L758.62 67.80V74.60" fill="none" stroke="#000" stroke-width="1.0" stroke-linejoin="round"/>
<path d="M762.40 69.10L763.05 68.77L764.02 67.80V74.60" fill="none" stroke="#000" stroke-width="1.0" stroke-linejoin="round"/>
<line x1="514.7" y1="108.5" x2="551.4" y2="108.5" stroke="#00f" stroke-width="2.1"/>
<path d="M558.60 104.63L559.67 104.10L561.27 102.50V113.70" fill="none" stroke="#000" stroke-width="1.15" stroke-linejoin="round"/>
<text x="565.6" y="113.9" font-size="16" textLength="10.2" lengthAdjust="spacingAndGlyphs">0</text>
<path d="M578.20 100.60L578.85 100.27L579.82 99.30V106.10" fill="none" stroke="#000" stroke-width="1.0" stroke-linejoin="round"/>
<path d="M583.60 100.60L584.25 100.27L585.22 99.30V106.10" fill="none" stroke="#000" stroke-width="1.0" stroke-linejoin="round"/>
<path d="M607.2 103.60000000000001L598 108.85L607.2 114.10000000000001" fill="none" stroke="#000" stroke-width="1.15" stroke-linejoin="round"/>
<text x="617.5" y="113.7" font-size="16" textLength="11.8" lengthAdjust="spacingAndGlyphs">M</text>
<line x1="630.6" y1="117.60000000000001" x2="639.5" y2="101.10000000000001" stroke="#000" stroke-width="1.15"/>
<text x="641.4" y="113.7" font-size="18" textLength="6.4" lengthAdjust="spacingAndGlyphs">(</text>
<text x="648.2" y="113.7" font-size="16" textLength="8.6" lengthAdjust="spacingAndGlyphs">h</text>
<line x1="659.2" y1="103.9" x2="665.4" y2="103.9" stroke="#000" stroke-width="1.0"/>
<path d="M667.30 101.76L667.93 101.44L668.87 100.50V107.10" fill="none" stroke="#000" stroke-width="1.0" stroke-linejoin="round"/>
<text x="671.7" y="113.7" font-size="16" textLength="12.2" lengthAdjust="spacingAndGlyphs">M</text>
<text x="684.6" y="122.10000000000001" font-size="9" textLength="13.8" lengthAdjust="spacingAndGlyphs" font-weight="bold">sol</text>
<text x="698.6" y="113.7" font-size="18" textLength="6.4" lengthAdjust="spacingAndGlyphs">)</text>
<path d="M724 104.5L714.8 109.30L724 114.10000000000001" fill="none" stroke="#000" stroke-width="1.15" stroke-linejoin="round"/>
<path d="M737.60 104.63L738.67 104.10L740.27 102.50V113.70" fill="none" stroke="#000" stroke-width="1.15" stroke-linejoin="round"/>
<text x="743.8" y="113.9" font-size="16" textLength="10.2" lengthAdjust="spacingAndGlyphs">0</text>
<path d="M757.00 100.60L757.65 100.27L758.62 99.30V106.10" fill="none" stroke="#000" stroke-width="1.0" stroke-linejoin="round"/>
<text x="760.7" y="106.2" font-size="10.5" stroke="#000" stroke-width="0.15">2</text>
<line x1="514.7" y1="140" x2="551.4" y2="140" stroke="#f00" stroke-width="2.1"/>
<path d="M558.60 136.13L559.67 135.60L561.27 134.00V145.20" fill="none" stroke="#000" stroke-width="1.15" stroke-linejoin="round"/>
<text x="565.6" y="145.39999999999998" font-size="16" textLength="10.2" lengthAdjust="spacingAndGlyphs">0</text>
<path d="M578.20 132.10L578.85 131.77L579.82 130.80V137.60" fill="none" stroke="#000" stroke-width="1.0" stroke-linejoin="round"/>
<text x="581.9" y="137.7" font-size="10.5" stroke="#000" stroke-width="0.15">2</text>
<path d="M607.2 135.1L598 140.35L607.2 145.6" fill="none" stroke="#000" stroke-width="1.15" stroke-linejoin="round"/>
<text x="617.5" y="145.2" font-size="16" textLength="11.8" lengthAdjust="spacingAndGlyphs">M</text>
<line x1="630.6" y1="149.1" x2="639.5" y2="132.6" stroke="#000" stroke-width="1.15"/>
<text x="641.4" y="145.2" font-size="18" textLength="6.4" lengthAdjust="spacingAndGlyphs">(</text>
<text x="648.2" y="145.2" font-size="16" textLength="8.6" lengthAdjust="spacingAndGlyphs">h</text>
<line x1="659.2" y1="135.39999999999998" x2="665.4" y2="135.39999999999998" stroke="#000" stroke-width="1.0"/>
<path d="M667.30 133.26L667.93 132.94L668.87 132.00V138.60" fill="none" stroke="#000" stroke-width="1.0" stroke-linejoin="round"/>
<text x="671.7" y="145.2" font-size="16" textLength="12.2" lengthAdjust="spacingAndGlyphs">M</text>
<text x="684.6" y="153.6" font-size="9" textLength="13.8" lengthAdjust="spacingAndGlyphs" font-weight="bold">sol</text>
<text x="698.6" y="145.2" font-size="18" textLength="6.4" lengthAdjust="spacingAndGlyphs">)</text>
<path d="M724 136.0L714.8 140.80L724 145.6" fill="none" stroke="#000" stroke-width="1.15" stroke-linejoin="round"/>
<path d="M737.60 136.13L738.67 135.60L740.27 134.00V145.20" fill="none" stroke="#000" stroke-width="1.15" stroke-linejoin="round"/>
<text x="743.8" y="145.39999999999998" font-size="16" textLength="10.2" lengthAdjust="spacingAndGlyphs">0</text>
<path d="M757.00 132.10L757.65 131.77L758.62 130.80V137.60" fill="none" stroke="#000" stroke-width="1.0" stroke-linejoin="round"/>
<text x="760.7" y="137.7" font-size="10.5" stroke="#000" stroke-width="0.15">3</text>
<path d="M496.4 331V376.4M492.09999999999997 331H500.7M492.09999999999997 376.4H500.7" stroke="#f00" stroke-width="1.8" fill="none"/>
<path d="M570 345.6V362M565 345.6H575M565 362H575" stroke="#00f" stroke-width="1.8" fill="none"/>
<path d="M643.6 351.2V357M638.8000000000001 351.2H648.4M638.8000000000001 357H648.4" stroke="#000" stroke-width="1.8" fill="none"/>
<text x="486.0" y="394" font-size="16" fill="#f00">2</text>
<text x="496.2" y="394" font-size="16" fill="#f00">.</text>
<text x="501.7" y="394" font-size="16" fill="#f00">3</text>
<path d="M514.20 385.10L515.25 384.57L516.82 383.00V394.00" fill="none" stroke="#f00" stroke-width="1.15" stroke-linejoin="round"/>
<text x="521.3" y="394" font-size="16" textLength="9.6" lengthAdjust="spacingAndGlyphs" fill="#f00" font-style="italic">σ</text>
<text x="559.7" y="394" font-size="16" fill="#00f">3</text>
<text x="569.9" y="394" font-size="16" fill="#00f">.</text>
<text x="575.4" y="394" font-size="16" fill="#00f">9</text>
<text x="586.0" y="394" font-size="16" fill="#00f">3</text>
<text x="595.0" y="394" font-size="16" textLength="9.6" lengthAdjust="spacingAndGlyphs" fill="#00f" font-style="italic">σ</text>
<text x="633.1" y="394" font-size="16" fill="#000">5</text>
<text x="643.2" y="394" font-size="16" fill="#000">.</text>
<text x="648.8" y="394" font-size="16" fill="#000">3</text>
<text x="659.4" y="394" font-size="16" fill="#000">8</text>
<text x="668.4" y="394" font-size="16" textLength="9.6" lengthAdjust="spacingAndGlyphs" fill="#000" font-style="italic">σ</text>
</svg></body></html>
